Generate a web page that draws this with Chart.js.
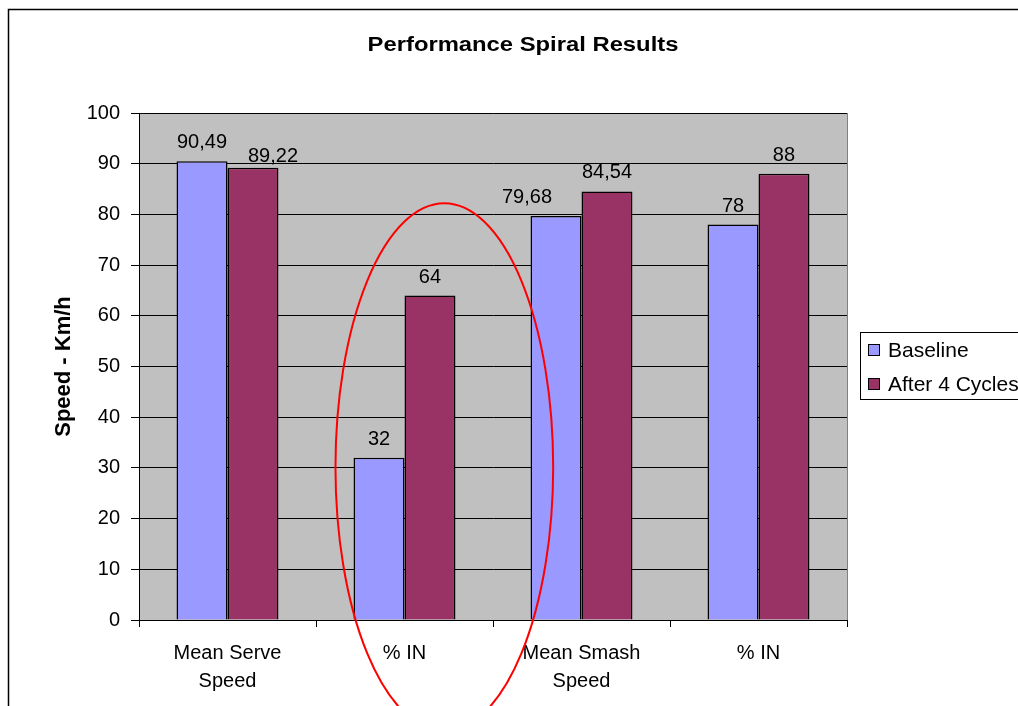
<!DOCTYPE html>
<html>
<head>
<meta charset="utf-8">
<script src="https://cdn.jsdelivr.net/npm/chart.js@4.4.0/dist/chart.umd.min.js"></script>
<style>
    html, body { margin: 0; padding: 0; background: #fff; overflow: hidden; }
    #wrap { width: 1018px; height: 706px; }
</style>
</head>
<body>
<div id="wrap"><canvas id="spiralChart" width="1018" height="706"></canvas></div>
<script>
// chart data
const chartTitle = 'Performance Spiral Results';
const categories = [['Mean Serve', 'Speed'], '% IN', ['Mean Smash', 'Speed'], '% IN'];
const baseline = [90.49, 32, 79.68, 78];
const afterCycles = [89.22, 64, 84.54, 88];
const yTicks = [0, 10, 20, 30, 40, 50, 60, 70, 80, 90, 100];

const FONT = 'Arial, "Liberation Sans", sans-serif';

// value label nudges (Excel moved two labels to avoid overlap)
const labelNudge = {
    '1-0': { dx: 20, dy: 7 },
    '0-2': { dx: -29, dy: 0 }
};

function fmt(v) {
    return String(v).replace('.', ',');
}

const framePlugin = {
    id: 'frame',
    beforeDraw(chart) {
        const ctx = chart.ctx;
        const a = chart.chartArea;
        ctx.save();
        ctx.fillStyle = '#fff';
        ctx.fillRect(0, 0, chart.width, chart.height);
        ctx.strokeStyle = '#000';
        ctx.lineWidth = 1.5;
        ctx.strokeRect(8.5, 9.5, 2000, 2000);
        ctx.fillStyle = '#C0C0C0';
        ctx.fillRect(a.left, a.top, a.right - a.left, a.bottom - a.top);
        ctx.strokeStyle = '#808080';
        ctx.lineWidth = 1;
        ctx.strokeRect(a.left + 0.5, a.top + 0.5, a.right - a.left, a.bottom - a.top);

        // chart title, centred over the whole chart frame
        ctx.translate(523, 45);
        ctx.scale(1.19, 1);
        ctx.font = 'bold 20px ' + FONT;
        ctx.fillStyle = '#000';
        ctx.textAlign = 'center';
        ctx.textBaseline = 'middle';
        ctx.fillText(chartTitle, 0, 0);
        ctx.restore();
    }
};

const extrasPlugin = {
    id: 'extras',
    afterDatasetsDraw(chart) {
        const ctx = chart.ctx;
        ctx.save();
        ctx.font = '20px ' + FONT;
        ctx.fillStyle = '#000';
        ctx.textAlign = 'center';
        ctx.textBaseline = 'alphabetic';
        chart.data.datasets.forEach(function (ds, di) {
            chart.getDatasetMeta(di).data.forEach(function (bar, i) {
                const n = labelNudge[di + '-' + i] || { dx: 0, dy: 0 };
                ctx.fillText(fmt(ds.data[i]), bar.x + n.dx, bar.y - 13 + n.dy);
            });
        });
        ctx.restore();
    },
    afterDraw(chart) {
        const ctx = chart.ctx;
        const xs = chart.scales.x;
        const ys = chart.scales.y;

        // red ellipse around the first "% IN" group
        const left = xs.getPixelForValue(0.61);
        const right = xs.getPixelForValue(1.84);
        const top = ys.getPixelForValue(82.2);
        const bottom = ys.getPixelForValue(-21.9);
        ctx.save();
        ctx.strokeStyle = '#FF0000';
        ctx.lineWidth = 2;
        ctx.beginPath();
        ctx.ellipse((left + right) / 2, (top + bottom) / 2, (right - left) / 2, (bottom - top) / 2, 0, 0, Math.PI * 2);
        ctx.stroke();
        ctx.restore();

        // legend box
        const lx = chart.chartArea.right + 13;
        const ly = 332;
        ctx.save();
        ctx.strokeStyle = '#000';
        ctx.lineWidth = 1;
        ctx.strokeRect(lx + 0.5, ly + 0.5, 300, 67);
        ctx.font = '21px ' + FONT;
        ctx.textAlign = 'left';
        ctx.textBaseline = 'middle';
        chart.data.datasets.forEach(function (ds, di) {
            const cy = ly + 18 + di * 34;
            ctx.fillStyle = ds.backgroundColor;
            ctx.fillRect(lx + 8.5, cy - 5.5, 11, 11);
            ctx.strokeStyle = '#000';
            ctx.strokeRect(lx + 8.5, cy - 5.5, 11, 11);
            ctx.fillStyle = '#000';
            ctx.fillText(ds.label, lx + 28, cy + 1);
        });
        ctx.restore();
    }
};

const ctx = document.getElementById('spiralChart').getContext('2d');
new Chart(ctx, {
    type: 'bar',
    data: {
        labels: categories,
        datasets: [
            { label: 'Baseline', data: baseline, backgroundColor: '#9999FF', borderColor: '#000', borderWidth: 1.5 },
            { label: 'After 4 Cycles', data: afterCycles, backgroundColor: '#993366', borderColor: '#000', borderWidth: 1.5 }
        ]
    },
    options: {
        responsive: false,
        animation: false,
        devicePixelRatio: 1,
        categoryPercentage: 0.576,
        barPercentage: 1,
        layout: { padding: { left: 51, top: 113, right: 171, bottom: 0 } },
        plugins: {
            legend: { display: false },
            tooltip: { enabled: false },
            title: { display: false }
        },
        scales: {
            x: {
                grid: { display: true, drawOnChartArea: false, drawTicks: true, tickLength: 7, color: '#000', offset: true },
                border: { color: '#000', width: 1 },
                ticks: { color: '#000', font: { family: FONT, size: 20, lineHeight: 1.4 }, padding: 12, maxRotation: 0, autoSkip: false },
                afterFit(scale) { scale.height = 86; }
            },
            y: {
                min: 0,
                max: 100,
                afterBuildTicks(scale) { scale.ticks = yTicks.map(function (v) { return { value: v }; }); },
                grid: { color: '#000', tickLength: 8 },
                border: { color: '#000', width: 1 },
                ticks: { color: '#000', font: { family: FONT, size: 20 }, padding: 11 },
                title: {
                    display: true,
                    text: 'Speed - Km/h',
                    color: '#000',
                    font: { family: FONT, size: 22, weight: 'bold', lineHeight: 1.2 },
                    padding: { top: 0, bottom: 0 }
                },
                afterFit(scale) { scale.width = 88; }
            }
        }
    },
    plugins: [framePlugin, extrasPlugin]
});
</script>
</body>
</html>
